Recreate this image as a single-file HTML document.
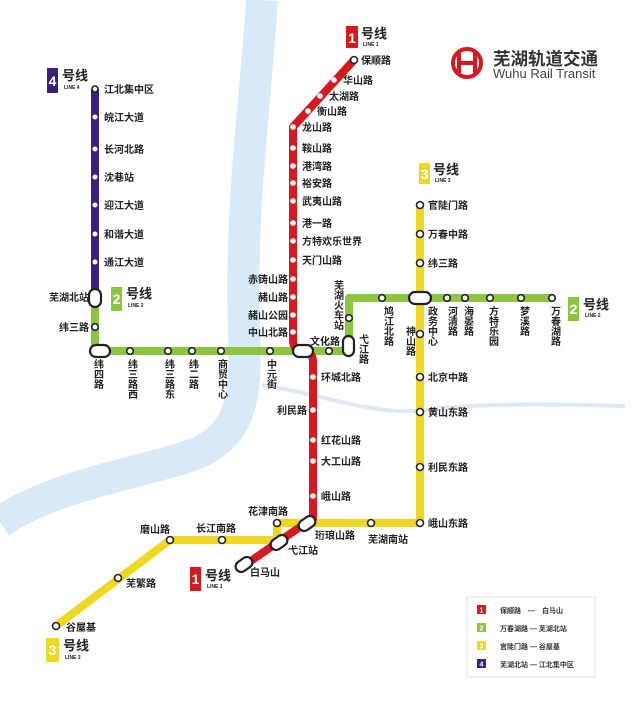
<!DOCTYPE html>
<html><head><meta charset="utf-8"><style>
html,body{margin:0;padding:0;background:#fff;}
svg{display:block;font-family:"Liberation Sans","Noto Sans CJK SC",sans-serif;}
.t{font-size:10px;font-weight:bold;fill:#222;}
.v{font-size:10px;font-weight:bold;fill:#222;writing-mode:vertical-rl;glyph-orientation-vertical:0;}
.s{fill:#fff;stroke:#222;stroke-width:1.6;}
.sw{fill:#fff;stroke:none;}
.p{fill:#fff;stroke:#222;stroke-width:2.2;}
.hx{font-size:13px;font-weight:bold;fill:#222;}
.ln{font-size:5px;font-weight:bold;fill:#222;}
.bn{font-size:14px;font-weight:bold;fill:#fff;}
</style></head><body>
<svg width="640" height="703" viewBox="0 0 640 703">
<!-- river -->
<path d="M262,0 C256,100 240,200 244,330 C247,400 240,432 200,452 C150,472 60,482 0,522" fill="none" stroke="#d8eaf8" stroke-width="32"/>
<path d="M262,385 C330,395 380,420 440,408 C520,402 580,405 625,406" fill="none" stroke="#dde9f5" stroke-width="4"/>

<!-- Line 4 -->
<line x1="95" y1="89" x2="95" y2="298" stroke="#3a1f7d" stroke-width="8"/>
<!-- Line 2 -->
<path d="M95,298 L95,351 L349,351 L349,298 L553,298" fill="none" stroke="#8cc63f" stroke-width="8" stroke-linejoin="round"/>
<!-- Line 3 -->
<path d="M420,205 L420,523 L277,523 L277,540 L170,540 L56,626" fill="none" stroke="#f0d722" stroke-width="8" stroke-linejoin="round"/>
<!-- Line 1 -->
<path d="M354,60 L293,127 L293,340 Q293,351 303,351 Q313,351 313,362 L313,518 L245,565" fill="none" stroke="#d7191f" stroke-width="8" stroke-linejoin="round"/>

<!-- Line 4 stations -->
<g class="sw"><circle cx="95" cy="117" r="2.5"/><circle cx="95" cy="149" r="2.5"/><circle cx="95" cy="177" r="2.5"/><circle cx="95" cy="205" r="2.5"/><circle cx="95" cy="234" r="2.5"/><circle cx="95" cy="262" r="2.5"/></g>
<circle class="s" cx="95" cy="89" r="3"/>
<g class="t"><text x="104" y="93">江北集中区</text><text x="104" y="121">皖江大道</text><text x="104" y="153">长河北路</text><text x="104" y="181">沈巷站</text><text x="104" y="209">迎江大道</text><text x="104" y="238">和谐大道</text><text x="104" y="266">通江大道</text></g>

<!-- Line 1 stations -->
<g class="sw">
<circle cx="334" cy="80" r="2.8"/><circle cx="320" cy="96" r="2.8"/><circle cx="308" cy="111" r="2.8"/><circle cx="293" cy="127" r="2.8"/>
<circle cx="293" cy="148" r="2.8"/><circle cx="293" cy="166" r="2.8"/><circle cx="293" cy="183" r="2.8"/><circle cx="293" cy="201" r="2.8"/><circle cx="293" cy="223" r="2.8"/><circle cx="293" cy="241" r="2.8"/><circle cx="293" cy="260" r="2.8"/><circle cx="293" cy="279" r="2.8"/><circle cx="293" cy="297" r="2.8"/><circle cx="293" cy="315" r="2.8"/><circle cx="293" cy="332" r="2.8"/>
<circle cx="313" cy="377" r="2.8"/><circle cx="313" cy="410" r="2.8"/><circle cx="313" cy="440" r="2.8"/><circle cx="313" cy="461" r="2.8"/><circle cx="313" cy="496" r="2.8"/>
</g>
<circle class="s" cx="354" cy="60" r="3.5"/>
<g class="t">
<text x="361" y="64">保顺路</text><text x="343" y="84">华山路</text><text x="329" y="100">太湖路</text><text x="317" y="115">衡山路</text><text x="302" y="131">龙山路</text>
<text x="302" y="152">鞍山路</text><text x="302" y="170">港湾路</text><text x="302" y="187">裕安路</text><text x="302" y="205">武夷山路</text><text x="302" y="227">港一路</text><text x="302" y="245">方特欢乐世界</text><text x="302" y="264">天门山路</text>
<text x="288" y="283" text-anchor="end">赤铸山路</text><text x="288" y="301" text-anchor="end">赭山路</text><text x="288" y="319" text-anchor="end">赭山公园</text><text x="288" y="336" text-anchor="end">中山北路</text>
<text x="321" y="381">环城北路</text><text x="307" y="414" text-anchor="end">利民路</text><text x="321" y="444">红花山路</text><text x="321" y="465">大工山路</text><text x="321" y="500">峨山路</text>
<text x="315" y="539">珩琅山路</text><text x="288" y="554">弋江站</text><text x="250" y="576">白马山</text>
<text x="310" y="345">文化路</text>
</g>

<!-- Line 2 stations -->
<g>
<circle class="s" cx="95" cy="327" r="3.3"/>
<circle class="s" cx="130" cy="351" r="3.3"/><circle class="s" cx="168" cy="351" r="3.3"/><circle class="s" cx="192" cy="351" r="3.3"/><circle class="s" cx="221" cy="351" r="3.3"/><circle class="s" cx="270" cy="351" r="3.3"/><circle class="s" cx="329" cy="351" r="3.3"/>
<circle class="s" cx="349" cy="318" r="3.3"/>
<circle class="s" cx="382" cy="298" r="3.3"/><circle class="s" cx="447" cy="298" r="3.3"/><circle class="s" cx="465" cy="298" r="3.3"/><circle class="s" cx="490" cy="298" r="3.3"/><circle class="s" cx="521" cy="298" r="3.3"/><circle class="s" cx="552" cy="298" r="3.3"/>
</g>
<g class="t"><text x="89" y="301" text-anchor="end">芜湖北站</text><text x="89" y="331" text-anchor="end">纬三路</text></g>
<g class="v">
<text x="97" y="359">纬四路</text><text x="131" y="359">纬三路西</text><text x="168" y="359">纬三路东</text><text x="192" y="359">纬二路</text><text x="221" y="359">商贸中心</text><text x="270" y="359">中元街</text>
<text x="337" y="280">芜湖火车站</text><text x="362" y="334">弋江路</text>
<text x="387" y="306">鸠江北路</text><text x="431" y="306">政务中心</text><text x="451" y="306">河清路</text><text x="467" y="306">海晏路</text><text x="492" y="306">方特乐园</text><text x="523" y="306">梦溪路</text><text x="554" y="306">万春湖路</text>
<text x="409" y="326">神山路</text>
</g>

<!-- Line 3 stations -->
<g>
<circle class="s" cx="420" cy="205" r="3.5"/><circle class="s" cx="420" cy="234" r="3.5"/><circle class="s" cx="420" cy="263" r="3.5"/><circle class="s" cx="420" cy="334" r="3.5"/><circle class="s" cx="420" cy="377" r="3.5"/><circle class="s" cx="420" cy="412" r="3.5"/><circle class="s" cx="420" cy="467" r="3.5"/><circle class="s" cx="420" cy="523" r="3.5"/>
<circle class="s" cx="371" cy="523" r="3.5"/><circle class="s" cx="277" cy="523" r="3.5"/><circle class="s" cx="222" cy="540" r="3.5"/><circle class="s" cx="170" cy="540" r="3.5"/><circle class="s" cx="118" cy="578" r="3.5"/><circle class="s" cx="56" cy="626" r="3.5"/>
</g>
<g class="t">
<text x="428" y="209">官陡门路</text><text x="428" y="238">万春中路</text><text x="428" y="267">纬三路</text><text x="428" y="381">北京中路</text><text x="428" y="416">黄山东路</text><text x="428" y="471">利民东路</text><text x="428" y="527">峨山东路</text>
<text x="368" y="543">芜湖南站</text><text x="248" y="515">花津南路</text><text x="196" y="532">长江南路</text><text x="140" y="533">磨山路</text><text x="126" y="587">芜繁路</text><text x="66" y="631">谷屋基</text>
</g>

<!-- interchanges -->
<rect class="p" x="89" y="289" width="12" height="18" rx="6"/>
<rect class="p" x="90" y="345" width="20" height="12" rx="6"/>
<rect class="p" x="293" y="345" width="20" height="12" rx="6"/>
<rect class="p" x="343" y="336" width="11" height="20" rx="5.5"/>
<rect class="p" x="409" y="292" width="22" height="12" rx="6"/>
<rect class="p" x="298" y="518" width="18" height="11" rx="5.5" transform="rotate(-35 307 523.5)"/>
<rect class="p" x="270" y="537" width="18" height="11" rx="5.5" transform="rotate(-35 279 542.5)"/>
<rect class="p" x="235" y="559" width="18" height="11" rx="5.5" transform="rotate(-35 244 564.5)"/>

<!-- badges -->
<g>
<rect x="346" y="26" width="12" height="22" fill="#d7191f"/><text class="bn" x="352" y="43" text-anchor="middle">1</text><text class="hx" x="361" y="38">号线</text><text class="ln" x="363" y="46">LINE 1</text>
<rect x="47" y="68" width="11" height="25" fill="#3a1f7d"/><text class="bn" x="52.5" y="86" text-anchor="middle">4</text><text class="hx" x="62" y="80">号线</text><text class="ln" x="64" y="89">LINE 4</text>
<rect x="111" y="287" width="11" height="24" fill="#8cc63f"/><text class="bn" x="116.5" y="304" text-anchor="middle">2</text><text class="hx" x="126" y="298">号线</text><text class="ln" x="128" y="307">LINE 2</text>
<rect x="568" y="297" width="11" height="24" fill="#8cc63f"/><text class="bn" x="573.5" y="314" text-anchor="middle">2</text><text class="hx" x="583" y="309">号线</text><text class="ln" x="585" y="317">LINE 2</text>
<rect x="419" y="163" width="11" height="21" fill="#f0d722"/><text class="bn" x="424.5" y="179" text-anchor="middle">3</text><text class="hx" x="433" y="174">号线</text><text class="ln" x="435" y="182">LINE 3</text>
<rect x="190" y="567" width="11" height="24" fill="#d7191f"/><text class="bn" x="195.5" y="584" text-anchor="middle">1</text><text class="hx" x="205" y="580">号线</text><text class="ln" x="207" y="588">LINE 1</text>
<rect x="46" y="638" width="13" height="24" fill="#f0d722"/><text class="bn" x="52.5" y="655" text-anchor="middle">3</text><text class="hx" x="63" y="650">号线</text><text class="ln" x="65" y="659">LINE 3</text>
</g>

<!-- logo -->
<g>
<circle cx="467" cy="63" r="14" fill="none" stroke="#d7191f" stroke-width="4"/>
<rect x="457" y="51" width="4" height="24" fill="#d7191f"/><rect x="473" y="51" width="4" height="24" fill="#d7191f"/><rect x="457" y="61" width="20" height="4" fill="#d7191f"/>
<text x="493" y="65" font-size="17.5" font-weight="bold" fill="#333">芜湖轨道交通</text>
<text x="493" y="78" font-size="13" fill="#444">Wuhu Rail Transit</text>
</g>

<!-- legend -->
<rect x="467" y="597" width="128" height="80" fill="#fff" stroke="#e3e3e3"/>
<g font-size="7" fill="#333" font-weight="bold">
<rect x="477" y="605" width="9" height="9" fill="#d7191f"/><text x="481.5" y="612.5" text-anchor="middle" fill="#fff" font-size="7">1</text><text x="500" y="613">保顺路　—　白马山</text>
<rect x="477" y="623" width="9" height="9" fill="#8cc63f"/><text x="481.5" y="630.5" text-anchor="middle" fill="#fff" font-size="7">2</text><text x="500" y="631">万春湖路 — 芜湖北站</text>
<rect x="477" y="641" width="9" height="9" fill="#f0d722"/><text x="481.5" y="648.5" text-anchor="middle" fill="#fff" font-size="7">3</text><text x="500" y="649">官陡门路 — 谷屋基</text>
<rect x="477" y="659" width="9" height="9" fill="#3a1f7d"/><text x="481.5" y="666.5" text-anchor="middle" fill="#fff" font-size="7">4</text><text x="500" y="667">芜湖北站 — 江北集中区</text>
</g>
</svg>
</body></html>
